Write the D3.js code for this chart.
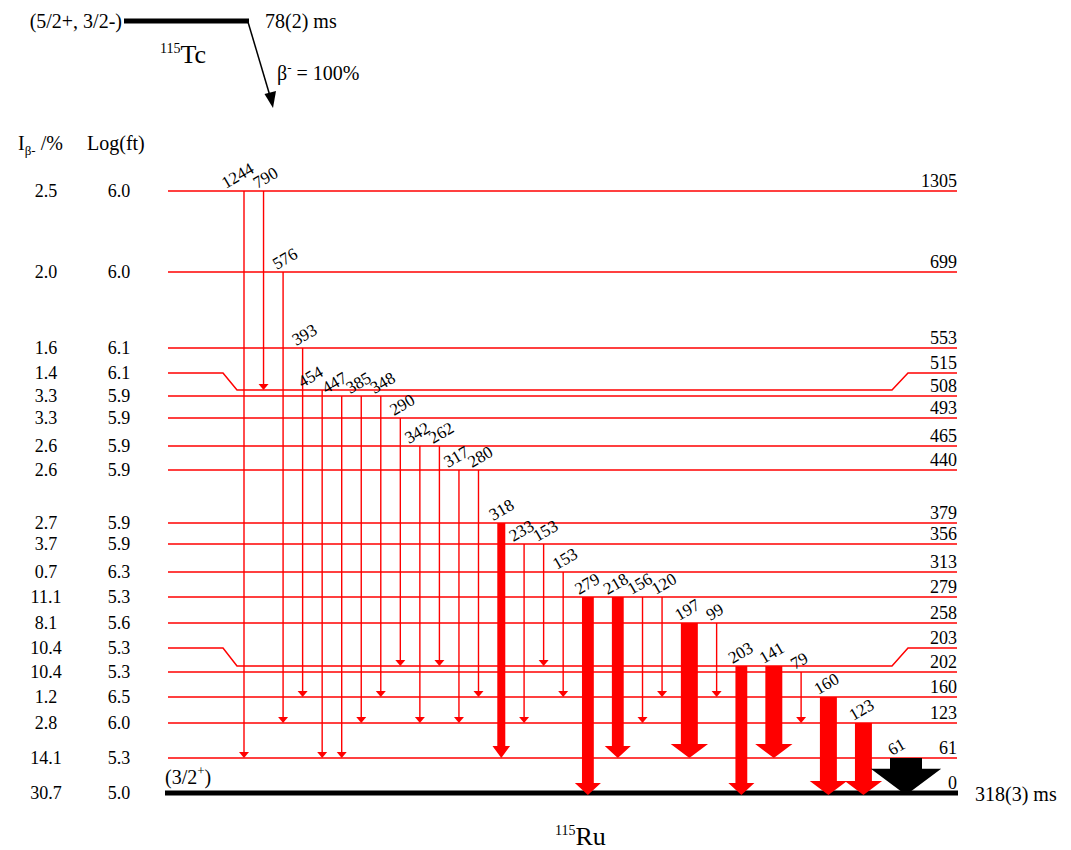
<!DOCTYPE html>
<html>
<head>
<meta charset="utf-8">
<script src="https://cdn.jsdelivr.net/npm/d3@7"></script>
<style>
  body { margin: 0; background: #fff; }
  text { font-family: "Liberation Serif", "Times New Roman", serif; fill: #000; }
</style>
</head>
<body>
<svg id="scheme" width="1071" height="850"></svg>
<script>
// ---- Data: 115Tc -> 115Ru beta decay ----
// Levels of 115Ru (keV), lowest first
const levelEnergies = [0, 61, 123, 160, 202, 203, 258, 279, 313, 356, 379, 440, 465, 493, 508, 515, 553, 699, 1305];
// Beta feeding (%) and log(ft) for each level
const betaFeeding = [30.7, 14.1, 2.8, 1.2, 10.4, 10.4, 8.1, 11.1, 0.7, 3.7, 2.7, 2.6, 2.6, 3.3, 3.3, 1.4, 1.6, 2.0, 2.5];
const logFt = [5.0, 5.3, 6.0, 6.5, 5.3, 5.3, 5.6, 5.3, 6.3, 5.9, 5.9, 5.9, 5.9, 5.9, 5.9, 6.1, 6.1, 6.0, 6.0];

// Gamma transitions, left to right
const gammaFrom = [1305, 1305, 699, 553, 515, 508, 508, 508, 493, 465, 465, 440, 440, 379, 356, 356, 313, 279, 279, 279, 279, 258, 258, 203, 203, 202, 160, 123, 61];
const gammaTo = [61, 515, 123, 160, 61, 61, 123, 160, 203, 123, 203, 123, 160, 61, 123, 203, 160, 0, 61, 123, 160, 61, 160, 0, 61, 123, 0, 0, 0];
const gammaEnergy = [1244, 790, 576, 393, 454, 447, 385, 348, 290, 342, 262, 317, 280, 318, 233, 153, 153, 279, 218, 156, 120, 197, 99, 203, 141, 79, 160, 123, 61];
// Relative gamma intensity (61 keV = 100)
const gammaIntensity = [3, 3, 3, 3, 3, 3, 3, 3, 3, 3, 3, 3, 3, 25, 3, 3, 3, 37, 37, 3, 3, 53, 3, 37, 53, 3, 53, 53, 100];

// Parent state
const parentSpin = "(5/2+, 3/2-)";
const parentHalfLife = "78(2) ms";
const betaBranch = "100%";
const groundSpin = "(3/2";
const groundHalfLife = "318(3) ms";

// ---- Layout ----
const svg = d3.select("#scheme");
const RED = "#ff0000";
const lineX0 = 168, lineX1 = 957;
const kinked = new Set([515, 203]);   // levels drawn shifted down to avoid label crowding
const LABEL_FS = 18;

// Vertical placement of each level row (schematic, not to energy scale)
const levelRowY = [793, 758, 723, 697, 672, 648, 623, 597, 572, 544, 523, 470, 446, 418, 396, 373, 348, 272, 191];
const y = d3.scaleLinear().domain(levelEnergies).range(levelRowY);

// y of the line that transitions attach to
function attachY(e) {
  if (kinked.has(e)) {
    const i = levelEnergies.indexOf(e);
    return y(levelEnergies[i - 1]) - 6;
  }
  return y(e);
}

// Gamma arrow widths from intensity
const widthScale = d3.scaleLinear().domain([0, 100]).range([0, 32]);
const gammas = gammaEnergy.map((e, i) => {
  const thin = gammaIntensity[i] < 10;
  return {
    energy: e, from: gammaFrom[i], to: gammaTo[i], intensity: gammaIntensity[i],
    thin, w: thin ? 1.5 : widthScale(gammaIntensity[i])
  };
});
// Horizontal slots: clearance plus half widths of neighbouring arrows
let acc = 0;
gammas.forEach((g, i) => {
  if (i > 0) acc += 18 + (gammas[i - 1].w + g.w) / 2;
  g.slot = acc;
});
const x = d3.scaleLinear().domain([0, acc]).range([244, 906]);

// ---- Level lines ----
const levels = levelEnergies.map((e, i) => ({ e, feed: betaFeeding[i], logft: logFt[i] }));
svg.append("g").selectAll("path")
  .data(levels.filter(d => d.e !== 0))
  .join("path")
  .attr("fill", "none")
  .attr("stroke", RED)
  .attr("stroke-width", 1.5)
  .attr("d", d => {
    const yy = y(d.e);
    if (!kinked.has(d.e)) return `M${lineX0},${yy}H${lineX1}`;
    const ym = attachY(d.e);
    return `M${lineX0},${yy}H223L237,${ym}H892L908,${yy}H${lineX1}`;
  });

// Ground state
svg.append("line")
  .attr("x1", 165).attr("x2", 958)
  .attr("y1", y(0)).attr("y2", y(0))
  .attr("stroke", "#000").attr("stroke-width", 5);

// ---- Gamma arrows ----
const gG = svg.append("g");
gammas.forEach(g => {
  const cx = x(g.slot);
  const y1 = attachY(g.from);
  const y2 = attachY(g.to) + (g.to === 0 ? 2 : 0);
  const col = g.energy === 61 ? "#000" : RED;
  if (g.thin) {
    gG.append("line")
      .attr("x1", cx).attr("x2", cx)
      .attr("y1", y1).attr("y2", y2 - 5)
      .attr("stroke", col).attr("stroke-width", 1.4);
    gG.append("path")
      .attr("d", `M${cx - 5},${y2 - 6}L${cx + 5},${y2 - 6}L${cx},${y2}Z`)
      .attr("fill", col);
  } else {
    const hw = g.w / 2, hh = g.w * 1.1, hH = Math.max(12, g.w * 0.82);
    const pts = [[cx - hw, y1], [cx + hw, y1], [cx + hw, y2 - hH], [cx + hh, y2 - hH],
                 [cx, y2], [cx - hh, y2 - hH], [cx - hw, y2 - hH]];
    gG.append("path")
      .attr("d", "M" + pts.map(p => p.join(",")).join("L") + "Z")
      .attr("fill", col);
  }
});

// Gamma energy labels, rotated
const cos30 = Math.cos(Math.PI / 6);
const labelG = svg.append("g");
const labels = gammas.map(g => {
  const t = labelG.append("text")
    .attr("font-size", 17)
    .text(g.energy);
  const len = t.node().getComputedTextLength();
  return { t, g, sx: x(g.slot) - 6 - g.w / 4, sy: attachY(g.from) - 2, len };
});
// keep labels at similar heights from running into each other
for (let i = labels.length - 2; i >= 0; i--) {
  const a = labels[i], b = labels[i + 1];
  if (Math.abs(a.sy - b.sy) < 10 && a.sx + a.len * cos30 + 2 > b.sx) {
    a.sx = b.sx - a.len * cos30 - 2;
  }
}
labels.forEach(l => l.t.attr("transform", `translate(${l.sx},${l.sy}) rotate(-30)`));

// ---- Level energy labels (right) ----
svg.append("g").selectAll("text")
  .data(levels)
  .join("text")
  .attr("x", lineX1)
  .attr("y", d => y(d.e) - 4)
  .attr("text-anchor", "end")
  .attr("font-size", LABEL_FS)
  .text(d => d.e);

// ---- Feeding and log ft (left) ----
const f1 = d3.format(".1f");
svg.append("g").selectAll("text")
  .data(levels)
  .join("text")
  .attr("x", 46)
  .attr("y", d => y(d.e) + 6)
  .attr("text-anchor", "middle")
  .attr("font-size", LABEL_FS)
  .text(d => f1(d.feed));
svg.append("g").selectAll("text")
  .data(levels)
  .join("text")
  .attr("x", 119)
  .attr("y", d => y(d.e) + 6)
  .attr("text-anchor", "middle")
  .attr("font-size", LABEL_FS)
  .text(d => f1(d.logft));

// Column headers
const h1 = svg.append("text").attr("x", 18).attr("y", 150).attr("font-size", 20);
h1.append("tspan").text("I");
h1.append("tspan").attr("font-size", 13).attr("dy", 5).text("β-");
h1.append("tspan").attr("dy", -5).text(" /%");
svg.append("text").attr("x", 87).attr("y", 150).attr("font-size", 20).text("Log(ft)");

// ---- Parent nucleus ----
svg.append("line")
  .attr("x1", 124).attr("x2", 249).attr("y1", 21).attr("y2", 21)
  .attr("stroke", "#000").attr("stroke-width", 5);
svg.append("text").attr("x", 122).attr("y", 28).attr("text-anchor", "end")
  .attr("font-size", 20).text(parentSpin);
svg.append("text").attr("x", 265).attr("y", 28).attr("font-size", 20).text(parentHalfLife);

const tc = svg.append("text").attr("x", 160).attr("y", 63);
tc.append("tspan").attr("font-size", 14).attr("dy", -10).text("115");
tc.append("tspan").attr("font-size", 26).attr("dy", 10).text("Tc");

// Beta decay arrow
svg.append("line")
  .attr("x1", 248).attr("y1", 22).attr("x2", 270).attr("y2", 96)
  .attr("stroke", "#000").attr("stroke-width", 1.5);
svg.append("path")
  .attr("d", "M264.5,94L276,91L273,108Z")
  .attr("fill", "#000");
const bt = svg.append("text").attr("x", 277).attr("y", 80).attr("font-size", 20);
bt.append("tspan").text("β");
bt.append("tspan").attr("font-size", 13).attr("dy", -8).text("-");
bt.append("tspan").attr("dy", 8).text(" = " + betaBranch);

// ---- Ground state annotations ----
const gs = svg.append("text").attr("x", 165).attr("y", 784).attr("font-size", 20);
gs.append("tspan").text(groundSpin);
gs.append("tspan").attr("font-size", 13).attr("dy", -9).text("+");
gs.append("tspan").attr("dy", 9).text(")");
svg.append("text").attr("x", 975).attr("y", 801).attr("font-size", 20).text(groundHalfLife);

const ru = svg.append("text").attr("x", 555).attr("y", 845);
ru.append("tspan").attr("font-size", 14).attr("dy", -10).text("115");
ru.append("tspan").attr("font-size", 26).attr("dy", 10).text("Ru");
</script>
</body>
</html>
